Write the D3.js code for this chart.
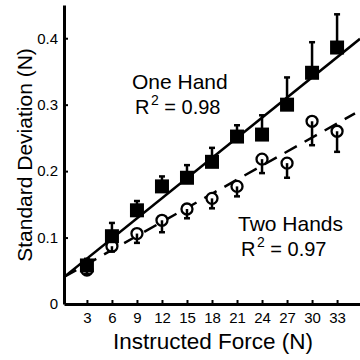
<!DOCTYPE html>
<html>
<head>
<meta charset="utf-8">
<script src="https://cdn.jsdelivr.net/npm/d3@7/dist/d3.min.js"></script>
<style>
  html, body { margin: 0; padding: 0; background: #fff; }
  svg { display: block; font-family: "Liberation Sans", Arial, Helvetica, sans-serif; }
</style>
</head>
<body>
<svg id="chart" width="360" height="360"></svg>
<script>
// Instructed force levels (N)
const forces = [3, 6, 9, 12, 15, 18, 21, 24, 27, 30, 33];

// Standard deviation of force (N), mean and error bar length per level
const oneHandMean = [0.058, 0.102, 0.141, 0.177, 0.190, 0.214, 0.252, 0.255, 0.300, 0.348, 0.386];
const oneHandErr  = [0.010, 0.020, 0.014, 0.015, 0.019, 0.021, 0.017, 0.029, 0.041, 0.046, 0.050];
const twoHandMean = [0.051, 0.087, 0.106, 0.126, 0.143, 0.159, 0.177, 0.218, 0.212, 0.275, 0.260];
const twoHandErr  = [0.006, 0.008, 0.014, 0.018, 0.014, 0.015, 0.015, 0.021, 0.022, 0.036, 0.031];

// Linear fits: [intercept, slope]
const oneHandFit = [0.038, 0.0101];
const twoHandFit = [0.039, 0.00705];
const oneHandR2 = "0.98";
const twoHandR2 = "0.97";

// Axis ticks
const xTicks = [3, 6, 9, 12, 15, 18, 21, 24, 27, 30, 33];
const yTicks = [0, 0.1, 0.2, 0.3, 0.4];
const yTickLabels = ["0", "0.1", "0.2", "0.3", "0.4"];

const svg = d3.select("#chart");

const x = d3.scaleLinear().domain([0.25, 35.75]).range([64, 360]);
const y = d3.scaleLinear().domain([0, 0.45]).range([304, 5]);

// Axes
const xAxis = d3.axisBottom(x)
  .tickValues(xTicks)
  .tickSizeInner(-4)
  .tickSizeOuter(0)
  .tickPadding(8)
  .tickFormat(d3.format("d"));
const yAxis = d3.axisLeft(y)
  .tickValues(yTicks)
  .tickSizeInner(-4)
  .tickSizeOuter(0)
  .tickPadding(6)
  .tickFormat((d, i) => yTickLabels[i]);

const gx = svg.append("g").attr("transform", `translate(0,${y(0)})`).call(xAxis);
const gy = svg.append("g").attr("transform", `translate(${x.range()[0]},0)`).call(yAxis);
[gx, gy].forEach(g => {
  g.select(".domain").attr("stroke", "#000").attr("stroke-width", 3);
  g.selectAll(".tick line").attr("stroke", "#000").attr("stroke-width", 2);
  g.selectAll(".tick text").attr("fill", "#000").style("font-size", "15px")
    .style("font-family", "'Liberation Sans', Arial, sans-serif");
});
gy.select(".tick line").remove();

// Plot-area clip for regression lines
svg.append("clipPath").attr("id", "plot-clip")
  .append("rect").attr("x", 64).attr("y", 5).attr("width", 296).attr("height", 299);

const line = d3.line().x(d => x(d[0])).y(d => y(d[1]));
const fitPoints = (fit, x0, x1) => [[x0, fit[0] + fit[1] * x0], [x1, fit[0] + fit[1] * x1]];

svg.append("path")
  .attr("clip-path", "url(#plot-clip)")
  .attr("d", line(fitPoints(oneHandFit, 0.25, 35.75)))
  .attr("fill", "none").attr("stroke", "#000").attr("stroke-width", 2.5);

svg.append("path")
  .attr("clip-path", "url(#plot-clip)")
  .attr("d", line(fitPoints(twoHandFit, 0.25, 35.15)))
  .attr("fill", "none").attr("stroke", "#000").attr("stroke-width", 2.5)
  .attr("stroke-dasharray", "14,9");

const one = forces.map((f, i) => ({ f, m: oneHandMean[i], e: oneHandErr[i] }));
const two = forces.map((f, i) => ({ f, m: twoHandMean[i], e: twoHandErr[i] }));

// Two hands: open circles, error bars downward
const gTwo = svg.append("g");
gTwo.selectAll("circle").data(two).join("circle")
  .attr("cx", d => x(d.f)).attr("cy", d => y(d.m)).attr("r", 5.5)
  .attr("fill", "#fff").attr("stroke", "#000").attr("stroke-width", 2.3);
gTwo.selectAll("line.bar").data(two).join("line")
  .attr("x1", d => x(d.f)).attr("x2", d => x(d.f))
  .attr("y1", d => y(d.m)).attr("y2", d => y(d.m - d.e))
  .attr("stroke", "#000").attr("stroke-width", 2.5);
gTwo.selectAll("line.cap").data(two).join("line")
  .attr("x1", d => x(d.f) - 3).attr("x2", d => x(d.f) + 3)
  .attr("y1", d => y(d.m - d.e)).attr("y2", d => y(d.m - d.e))
  .attr("stroke", "#000").attr("stroke-width", 2.5);

// One hand: error bars upward, filled squares
const gOne = svg.append("g");
gOne.selectAll("line.bar").data(one).join("line")
  .attr("x1", d => x(d.f)).attr("x2", d => x(d.f))
  .attr("y1", d => y(d.m)).attr("y2", d => y(d.m + d.e))
  .attr("stroke", "#000").attr("stroke-width", 2.5);
gOne.selectAll("line.cap").data(one).join("line")
  .attr("x1", d => x(d.f) - 3).attr("x2", d => x(d.f) + 3)
  .attr("y1", d => y(d.m + d.e)).attr("y2", d => y(d.m + d.e))
  .attr("stroke", "#000").attr("stroke-width", 2.5);
gOne.selectAll("rect").data(one).join("rect")
  .attr("x", d => x(d.f) - 7).attr("y", d => y(d.m) - 7)
  .attr("width", 14).attr("height", 14)
  .attr("fill", "#000");

// Axis titles
svg.append("text")
  .attr("x", 213).attr("y", 349)
  .attr("text-anchor", "middle")
  .style("font-size", "22.5px")
  .text("Instructed Force (N)");
svg.append("text")
  .attr("transform", "translate(32,155) rotate(-90)")
  .attr("text-anchor", "middle")
  .style("font-size", "21px")
  .text("Standard Deviation (N)");

// Series annotations
function label(xp, yp, name, r2) {
  svg.append("text").attr("x", xp).attr("y", yp)
    .style("font-size", "21px").text(name);
  const t = svg.append("text").attr("x", xp + 3).attr("y", yp + 25).style("font-size", "20px");
  t.append("tspan").text("R");
  t.append("tspan").attr("dx", 1.5).attr("dy", -9).style("font-size", "14px").text("2");
  t.append("tspan").attr("dy", 9).text(" = " + r2);
}
label(132, 89, "One Hand", oneHandR2);
label(238, 231, "Two Hands", twoHandR2);
</script>
</body>
</html>
